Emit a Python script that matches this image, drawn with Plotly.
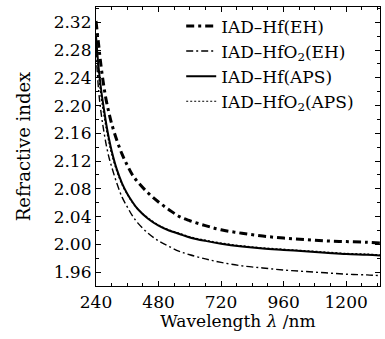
import plotly.graph_objects as go

wavelength = [240, 250, 260, 270, 280, 290, 300, 320, 340, 360, 380, 400, 440, 480, 520,
              560, 600, 660, 720, 800, 880, 960, 1040, 1120, 1200, 1280, 1330]

hf_eh = [2.322, 2.288, 2.255, 2.228, 2.206, 2.189, 2.174, 2.150, 2.130, 2.114, 2.100, 2.090,
         2.074, 2.061, 2.050, 2.040, 2.034, 2.027, 2.021, 2.016, 2.012, 2.009, 2.007, 2.005,
         2.004, 2.003, 2.002]

hfo2_eh = [2.280, 2.222, 2.188, 2.163, 2.142, 2.125, 2.112, 2.088, 2.068, 2.054, 2.041, 2.031,
           2.016, 2.005, 1.997, 1.990, 1.985, 1.979, 1.974, 1.969, 1.966, 1.963, 1.961, 1.959,
           1.957, 1.956, 1.955]

hf_aps = [2.300, 2.255, 2.222, 2.196, 2.172, 2.152, 2.135, 2.108, 2.088, 2.073, 2.061, 2.051,
          2.037, 2.027, 2.020, 2.015, 2.010, 2.005, 2.001, 1.997, 1.994, 1.992, 1.990, 1.988,
          1.986, 1.985, 1.984]

hfo2_aps = [2.290, 2.245, 2.212, 2.187, 2.165, 2.146, 2.130, 2.105, 2.086, 2.072, 2.060, 2.051,
            2.038, 2.028, 2.021, 2.016, 2.011, 2.006, 2.002, 1.998, 1.995, 1.993, 1.991, 1.989,
            1.987, 1.986, 1.985]

names = ["IAD–Hf(EH)", "IAD–HfO<sub>2</sub>(EH)", "IAD–Hf(APS)", "IAD–HfO<sub>2</sub>(APS)"]

x_ticks = [240, 480, 720, 960, 1200]
y_ticks = [1.96, 2.00, 2.04, 2.08, 2.12, 2.16, 2.20, 2.24, 2.28, 2.32]

FONT = "DejaVu Serif"

fig = go.Figure()
fig.add_trace(go.Scatter(x=wavelength, y=hf_eh, mode="lines", name=names[0],
                         line=dict(color="black", width=3, dash="8px,4px,3px,4px", shape="spline")))
fig.add_trace(go.Scatter(x=wavelength, y=hfo2_eh, mode="lines", name=names[1],
                         line=dict(color="black", width=1.4, dash="7px,3px,2px,3px", shape="spline")))
fig.add_trace(go.Scatter(x=wavelength, y=hf_aps, mode="lines", name=names[2],
                         line=dict(color="black", width=2, shape="spline")))
fig.add_trace(go.Scatter(x=wavelength, y=hfo2_aps, mode="lines", name=names[3],
                         line=dict(color="black", width=1.2, dash="2px,2px", shape="spline")))

axis_common = dict(showline=True, linecolor="black", linewidth=1.2, mirror="ticks",
                   ticks="inside", ticklen=5, tickwidth=1, tickcolor="black",
                   showgrid=False, zeroline=False,
                   tickfont=dict(family=FONT, size=17, color="black"))

fig.update_xaxes(range=[240, 1330], tickvals=x_ticks,
                 minor=dict(dtick=60, tick0=240, ticks="inside", ticklen=3, tickcolor="black"),
                 title=dict(text="Wavelength <i>λ</i> /nm", font=dict(family=FONT, size=17, color="black"),
                            standoff=0),
                 **axis_common)
fig.update_yaxes(range=[1.94, 2.342], tickvals=y_ticks, tickformat=".2f",
                 minor=dict(dtick=0.02, tick0=1.94, ticks="inside", ticklen=3, tickcolor="black"),
                 title=dict(text="Refractive index", font=dict(family=FONT, size=18, color="black"),
                            standoff=18),
                 **axis_common)

fig.update_layout(
    width=385, height=339,
    margin=dict(l=96, r=5, t=7, b=53),
    plot_bgcolor="white", paper_bgcolor="white",
    showlegend=True,
    legend=dict(x=0.30, y=0.995, xanchor="left", yanchor="top",
                bgcolor="rgba(0,0,0,0)", font=dict(family=FONT, size=17, color="black"),
                tracegroupgap=0, itemwidth=30),
)

fig.write_html("out.html")
